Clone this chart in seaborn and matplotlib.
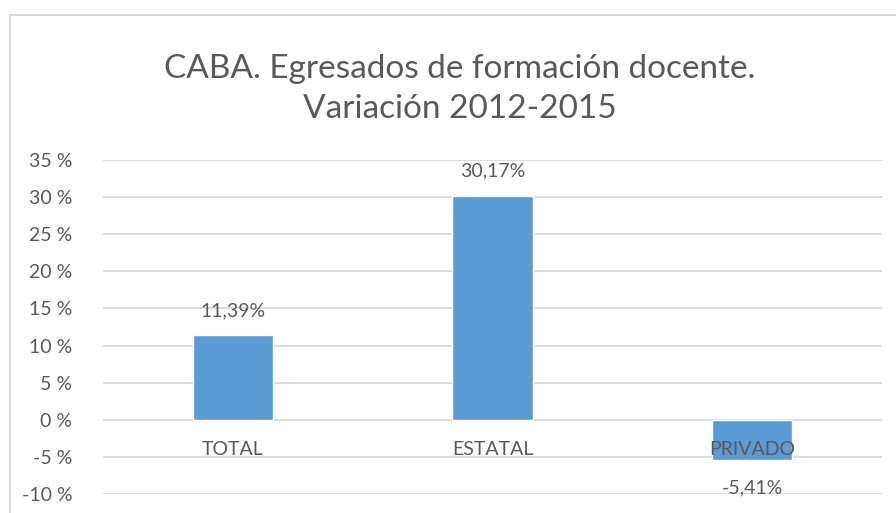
import matplotlib
matplotlib.use("Agg")
import matplotlib.pyplot as plt
import matplotlib.ticker as mticker
from matplotlib.lines import Line2D
import numpy as np
import pandas as pd
import seaborn as sns

# datos
categorias = ["TOTAL", "ESTATAL", "PRIVADO"]
variacion = [11.39, 30.17, -5.41]
etiquetas = ["11,39%", "30,17%", "-5,41%"]
titulo = "CABA. Egresados de formación docente.\nVariación 2012-2015"

df = pd.DataFrame({"Sector": categorias, "Variacion": variacion})

sns.set_style("white")
plt.rcParams["font.family"] = ["Lato", "DejaVu Sans"]
gris = "#595959"
azul = "#5B9BD5"

fig = plt.figure(figsize=(8.96, 5.13), dpi=100)
ax = fig.add_axes([103 / 896, 1 - 494 / 513, (882 - 103) / 896, (494 - 160) / 513])

sns.barplot(data=df, x="Sector", y="Variacion", color=azul, width=0.31,
            saturation=1, ax=ax, zorder=3)

ax.set_ylim(-10, 35)
ax.yaxis.set_major_locator(mticker.MultipleLocator(5))
ax.yaxis.set_major_formatter(mticker.FuncFormatter(lambda v, p: f"{v:.0f} %"))
ax.grid(axis="y", color="#D9D9D9", linewidth=1.3, zorder=0)
ax.set_axisbelow(True)
for s in ax.spines.values():
    s.set_visible(False)
ax.tick_params(axis="y", length=0, pad=22, labelsize=14, labelcolor=gris)
ax.set_xticks([])
ax.set_xlabel("")
ax.set_ylabel("")

# nombres de categoria sobre el eje
for i, cat in enumerate(categorias):
    ax.text(i, -4.0, cat, ha="center", va="center", fontsize=14, color=gris, zorder=4)

# etiquetas de datos
for i, (v, lab) in enumerate(zip(variacion, etiquetas)):
    y = v + 3.3 if v >= 0 else v - 3.8
    ax.text(i, y, lab, ha="center", va="center", fontsize=14, color=gris, zorder=4)

fig.text(460 / 896, 1 - 89 / 513, titulo, ha="center", va="center",
         fontsize=24, color=gris, linespacing=1.4)

# borde del area del grafico
fig.add_artist(Line2D([10 / 896, 1], [1 - 15 / 513] * 2, color="#D9D9D9", lw=1.5))
fig.add_artist(Line2D([10 / 896] * 2, [0, 1 - 15 / 513], color="#D9D9D9", lw=1.5))

fig.savefig("out.png", dpi=100)
